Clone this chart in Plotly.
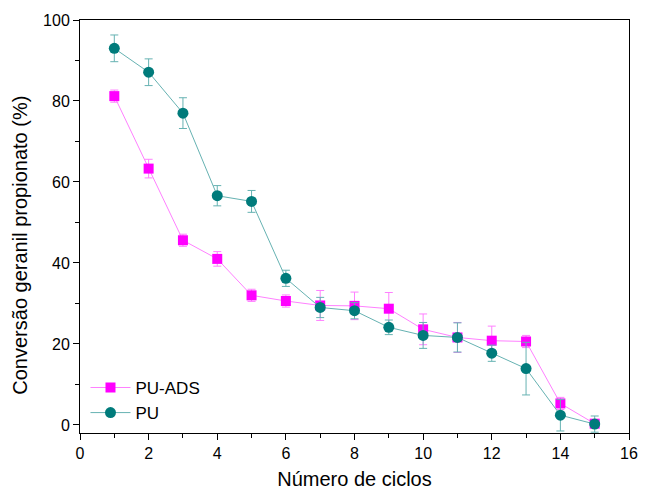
import plotly.graph_objects as go

ciclos = list(range(1, 16))
pu_ads = [81.2, 63.3, 45.6, 41.0, 32.0, 30.6, 29.5, 29.4, 28.7, 23.6, 21.6, 20.8, 20.6, 5.3, 0.3]
pu_ads_err = [1.5, 2.3, 1.5, 1.8, 1.5, 1.5, 3.7, 3.4, 4.0, 3.8, 3.7, 3.6, 1.5, 1.5, 1.0]
pu = [93.0, 87.1, 77.0, 56.6, 55.2, 36.2, 29.0, 28.2, 24.1, 22.1, 21.6, 17.7, 13.9, 2.4, 0.2]
pu_err = [3.3, 3.3, 3.8, 2.5, 2.7, 2.0, 2.5, 2.0, 1.8, 3.2, 3.6, 2.0, 6.5, 3.9, 2.0]

font = "Liberation Sans, Arial, sans-serif"

fig = go.Figure()
fig.add_trace(go.Scatter(
    x=ciclos, y=pu_ads, name="PU-ADS", mode="lines+markers",
    line=dict(color="#FF80FF", width=1),
    marker=dict(symbol="square", size=10, color="#FF00FF"),
    error_y=dict(type="data", array=pu_ads_err, color="#FF80FF", thickness=1, width=4),
))
fig.add_trace(go.Scatter(
    x=ciclos, y=pu, name="PU", mode="lines+markers",
    line=dict(color="#66B2B2", width=1),
    marker=dict(symbol="circle", size=11, color="#007B7B"),
    error_y=dict(type="data", array=pu_err, color="#66B2B2", thickness=1, width=4),
))

axis_common = dict(
    showline=True, linecolor="black", linewidth=1, mirror=True,
    ticks="outside", ticklen=6, tickwidth=1, tickcolor="black",
    showgrid=False, zeroline=False,
    tickfont=dict(family=font, size=16, color="black"),
)
fig.update_xaxes(
    range=[0, 16], dtick=2,
    minor=dict(ticks="outside", ticklen=4, dtick=1, tickcolor="black"),
    title=dict(text="Número de ciclos", font=dict(family=font, size=20, color="black"), standoff=10),
    **axis_common,
)
fig.update_yaxes(
    range=[-2, 100], dtick=20,
    minor=dict(ticks="outside", ticklen=4, dtick=10, tickcolor="black"),
    **axis_common,
)
fig.add_annotation(
    text="Conversão geranil propionato (%)", textangle=-90,
    xref="paper", yref="paper", x=-0.11, y=0.455, xanchor="center", yanchor="middle",
    showarrow=False, font=dict(family=font, size=20, color="black"),
)
fig.update_layout(
    width=648, height=497,
    margin=dict(l=80, r=10, t=20, b=64),
    paper_bgcolor="white", plot_bgcolor="white",
    showlegend=True,
    legend=dict(x=0.01, y=0.005, xanchor="left", yanchor="bottom",
                bgcolor="rgba(0,0,0,0)", font=dict(family=font, size=17, color="black"),
                tracegroupgap=0, itemwidth=40),
)
fig.write_html("out.html")
